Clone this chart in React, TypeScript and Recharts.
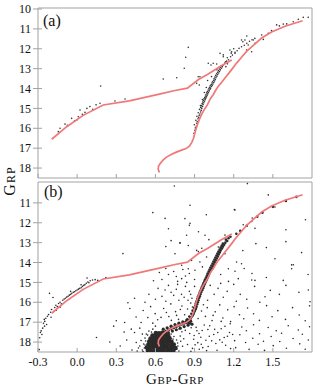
import { ReferenceArea, Scatter, ScatterChart, XAxis, YAxis } from "recharts";

// colour-magnitude diagram, two panels sharing the same isochrone
const FONT = '"Liberation Serif", "Times New Roman", serif';
const FRAME = "#a3a3a3";
const RED = "#f07878";
const INK = "#2a2a2a";

const xTicks = [-0.3, 0.0, 0.3, 0.6, 0.9, 1.2, 1.5];
const yTicksA = [10, 11, 12, 13, 14, 15, 16, 17, 18];
const yTicksB = [11, 12, 13, 14, 15, 16, 17, 18];

// isochrone: main sequence -> giant branch
const isoMain: [number, number][] = [
    [0.630, 18.22], [0.621, 18.05], [0.624, 17.9], [0.638, 17.76], [0.658, 17.6], [0.685, 17.45],
    [0.72, 17.32], [0.76, 17.2], [0.8, 17.1], [0.835, 17.02], [0.86, 16.9], [0.878, 16.72],
    [0.892, 16.5], [0.902, 16.25], [0.913, 16.0], [0.925, 15.75], [0.94, 15.5], [0.958, 15.25],
    [0.98, 15.0], [1.0, 14.8], [1.022, 14.5], [1.044, 14.3], [1.065, 14.05], [1.082, 13.89],
    [1.108, 13.68], [1.133, 13.47], [1.16, 13.25], [1.184, 13.05], [1.222, 12.72], [1.26, 12.43],
    [1.299, 12.13], [1.35, 11.83], [1.414, 11.46], [1.49, 11.16], [1.593, 10.87], [1.728, 10.59]
];
// isochrone: core helium burning branch
const isoLoop: [number, number][] = [
    [-0.195, 16.55], [-0.08, 15.92], [0.046, 15.35], [0.2, 14.83], [0.4, 14.62], [0.63, 14.28],
    [0.75, 14.1], [0.845, 13.98], [0.93, 13.55], [1.005, 13.27], [1.105, 12.85], [1.185, 12.57]
];

// panel (a): member stars
const aGiants: [number, number][] = [
    [0.895, 16.25], [0.902, 16.1], [0.906, 15.98], [0.913, 15.9], [0.898, 15.82], [0.916, 15.75],
    [0.921, 15.66], [0.91, 15.6], [0.926, 15.52], [0.931, 15.45], [0.918, 15.4],
    [0.935, 15.35], [0.941, 15.28], [0.928, 15.22], [0.946, 15.18], [0.951, 15.1], [0.938, 15.05],
    [0.955, 15.0], [0.947, 14.95], [0.961, 14.9], [0.952, 14.86], [0.966, 14.8], [0.958, 14.76],
    [0.971, 14.72], [0.962, 14.68], [0.976, 14.64], [0.967, 14.6], [0.981, 14.56], [0.972, 14.52],
    [0.986, 14.49], [0.978, 14.46], [0.991, 14.42], [0.983, 14.38], [0.996, 14.35], [0.988, 14.3],
    [1.001, 14.27], [0.993, 14.22], [1.006, 14.2], [0.998, 14.15], [1.012, 14.12], [1.004, 14.08],
    [1.018, 14.05], [1.01, 14.0], [1.023, 13.98], [1.015, 13.94], [1.029, 13.9], [1.02, 13.86],
    [1.035, 13.84], [1.027, 13.8], [1.041, 13.77], [1.033, 13.72], [1.047, 13.7], [1.038, 13.66],
    [1.053, 13.62], [1.045, 13.58], [1.059, 13.55], [1.05, 13.5], [1.064, 13.46], [1.056, 13.42],
    [1.071, 13.38], [1.062, 13.34], [1.077, 13.3], [1.069, 13.26], [1.085, 13.22], [1.076, 13.18],
    [1.091, 13.14], [1.083, 13.1], [1.098, 13.06], [1.09, 13.02], [1.106, 12.98], [1.098, 12.94],
    [1.113, 12.9], [1.105, 12.86], [1.121, 12.82], [1.03, 13.4], [1.0, 13.6], [0.99, 13.95],
    [1.07, 13.05], [1.14, 12.9], [1.152, 12.76], [0.975, 14.2], [0.96, 14.55], [0.945, 14.85],
    [1.131, 12.72], [1.146, 12.62], [1.16, 12.55], [1.151, 12.45], [1.176, 12.4], [1.19, 12.32],
    [1.181, 12.22], [1.21, 12.18], [1.226, 12.1], [1.2, 12.0], [1.241, 11.98], [1.26, 11.9],
    [1.281, 11.82], [1.3, 11.72], [1.27, 11.65], [1.321, 11.62], [1.34, 11.55], [1.362, 11.48],
    [1.12, 12.4], [1.043, 12.73], [1.095, 12.23], [1.184, 12.15], [1.26, 11.56], [1.3, 11.36],
    [1.414, 11.31], [1.465, 11.22], [1.337, 12.15], [1.005, 12.73], [0.941, 13.41], [0.916, 13.74],
    [1.529, 10.8], [1.55, 10.85], [1.606, 10.75], [1.58, 10.76], [1.656, 10.64], [1.695, 10.52],
    [1.733, 10.42], [1.771, 10.42], [1.49, 11.09], [1.427, 11.53], [1.363, 11.73], [1.286, 11.56],
    [1.35, 11.56], [1.311, 11.81], [1.299, 12.06]
];
const aBranch: [number, number][] = [
    [0.66, 13.52], [0.763, 13.46], [0.821, 12.98], [0.832, 12.43], [0.852, 11.93], [0.928, 13.41],
    [0.936, 13.82], [1.026, 12.82], [1.069, 12.77], [1.12, 12.31], [1.171, 12.06], [1.21, 12.23],
    [1.138, 12.65], [-0.144, 16.17], [-0.131, 16.0], [-0.093, 15.79], [-0.075, 15.85], [-0.042, 15.5],
    [-0.02, 15.62], [-0.003, 15.58], [0.009, 15.42], [0.022, 15.08], [0.04, 15.3], [0.06, 15.2],
    [0.075, 15.0], [0.098, 14.91], [0.12, 15.05], [0.145, 14.82], [0.175, 14.74], [0.18, 13.87],
    [0.29, 14.63], [0.367, 14.53]
];

// panel (b): all stars in the field
const bHB: [number, number][] = [
    [-0.29, 18.38], [-0.287, 17.78], [-0.282, 17.52], [-0.276, 17.44], [-0.27, 17.62], [-0.264, 17.3],
    [-0.258, 17.06], [-0.252, 16.86], [-0.248, 16.96], [-0.24, 16.8], [-0.234, 17.12], [-0.228, 16.7],
    [-0.219, 16.62], [-0.212, 15.55], [-0.203, 16.5], [-0.196, 16.36], [-0.185, 15.76], [-0.18, 16.46],
    [-0.172, 16.26], [-0.163, 16.15], [-0.152, 16.22], [-0.142, 16.06], [-0.131, 16.0], [-0.121, 16.08],
    [-0.11, 15.9], [-0.1, 15.84], [-0.09, 15.8], [-0.08, 15.74], [-0.07, 15.7], [-0.06, 15.64],
    [-0.05, 15.6], [-0.041, 15.55], [-0.03, 15.5], [-0.02, 15.47], [-0.01, 15.42], [0.0, 15.38],
    [0.01, 15.34], [0.02, 15.3], [0.031, 15.27], [0.04, 15.2], [0.051, 15.15], [0.06, 15.11],
    [0.07, 15.04], [0.082, 14.98], [0.09, 15.02], [0.1, 14.92], [0.118, 14.88], [0.138, 14.86],
    [0.158, 14.9], [0.22, 14.76], [0.076, 14.78], [-0.16, 16.4], [-0.13, 16.25], [-0.05, 15.45],
    [0.03, 15.12], [-0.2, 16.75], [-0.25, 17.2], [0.148, 17.77]
];
const bField: [number, number][] = [
    [0.745, 10.15], [1.305, 10.03], [1.465, 10.6], [0.865, 11.12], [1.205, 11.34], [0.826, 11.79],
    [0.86, 12.13], [1.516, 11.21], [1.342, 11.76], [1.273, 12.1], [0.58, 11.49], [1.21, 11.36],
    [0.674, 11.78], [0.865, 12.03], [1.338, 11.94], [1.363, 12.28], [1.133, 12.62], [0.99, 11.6],
    [1.75, 11.85], [1.6, 12.35], [0.7, 12.3], [0.93, 12.45],
    [0.839, 12.63], [0.788, 13.0], [0.852, 13.14], [0.916, 13.39], [0.955, 13.28], [0.98, 12.63],
    [1.01, 12.85], [1.082, 13.22], [1.133, 13.56], [1.222, 13.97], [1.26, 14.06], [1.516, 13.81],
    [1.657, 14.11], [0.75, 13.56], [0.877, 13.89], [0.941, 13.97], [0.992, 13.72], [0.929, 13.45],
    [0.789, 13.03], [0.68, 13.2], [0.72, 12.9], [1.45, 13.25], [1.72, 13.5], [1.6, 12.95],
    [1.37, 13.05], [0.351, 13.55], [1.27, 13.4],
    [0.801, 14.14], [0.852, 14.31], [0.903, 14.39], [0.96, 14.22], [1.159, 14.31], [1.21, 14.44],
    [1.235, 14.81], [1.363, 14.9], [1.58, 14.9], [0.801, 14.81], [0.83, 14.68], [0.77, 14.95],
    [1.644, 14.31], [0.7, 14.6], [0.65, 14.85], [0.585, 14.92], [0.74, 14.45], [1.1, 14.6],
    [1.34, 14.55], [1.45, 14.75], [1.28, 14.3], [1.77, 14.6], [0.68, 14.3], [0.9, 14.85],
    [1.16, 14.95], [1.644, 14.12], [0.76, 14.7], [0.86, 14.55], [0.63, 14.5], [0.81, 14.35],
    [0.674, 15.38], [0.65, 15.7], [0.6, 15.85], [0.72, 15.5], [0.76, 15.35], [0.8, 15.6],
    [0.83, 15.2], [0.86, 15.45], [0.88, 15.8], [0.78, 15.9], [0.7, 15.15], [0.62, 15.3],
    [0.55, 15.6], [0.52, 16.0], [0.44, 15.8], [0.389, 16.02], [1.0, 15.9], [1.05, 15.6],
    [1.08, 15.3], [1.12, 15.75], [1.15, 15.45], [1.2, 15.1], [1.25, 15.6], [1.3, 15.85],
    [1.338, 14.88], [1.36, 15.2], [1.44, 15.72], [1.48, 15.4], [1.55, 15.6], [1.6, 15.15],
    [1.7, 15.5], [1.772, 15.38], [1.785, 15.97], [1.22, 15.95], [1.4, 16.0], [1.02, 15.15],
    [0.9, 15.2], [0.84, 15.0], [0.82, 15.75], [0.74, 15.65], [0.87, 15.6], [0.68, 15.95],
    [0.77, 15.1], [0.85, 15.9], [1.1, 15.05],
    [0.3, 16.93], [0.364, 17.02], [0.49, 17.02], [0.542, 16.77], [0.506, 16.41], [0.563, 16.22],
    [0.598, 16.57], [0.617, 16.88], [0.663, 16.31], [0.703, 16.72], [0.718, 16.08], [0.754, 16.47],
    [0.777, 16.86], [0.803, 16.19], [0.824, 16.63], [0.846, 16.34], [0.871, 16.04], [0.983, 16.71],
    [0.997, 16.27], [1.034, 16.92], [1.058, 16.48], [1.093, 16.13], [1.117, 16.79], [1.154, 16.38],
    [1.176, 16.97], [1.203, 16.22], [1.244, 16.63], [1.277, 16.83], [1.306, 16.29], [1.352, 16.58],
    [1.397, 16.91], [1.452, 16.17], [1.494, 16.73], [1.538, 16.42], [1.597, 16.86], [1.651, 16.27],
    [1.702, 16.64], [1.748, 16.93], [1.781, 16.18], [0.927, 16.82], [0.953, 16.44], [1.104, 16.96],
    [0.404, 16.31], [0.452, 16.74], [0.762, 16.66], [0.833, 16.97], [0.684, 16.51], [0.791, 16.36],
    [0.968, 16.12], [1.042, 16.66], [0.643, 16.76], [0.722, 16.91], [0.884, 16.24],
    [0.415, 17.35], [0.44, 17.52], [0.453, 18.02], [0.555, 17.86], [0.47, 18.3], [0.5, 17.6],
    [0.38, 17.9], [0.33, 18.2], [0.42, 18.4], [0.52, 18.15], [0.803, 17.48], [0.817, 17.83],
    [0.846, 18.12], [0.874, 17.28], [0.897, 17.67], [0.925, 18.03], [0.936, 18.36], [0.958, 17.42],
    [0.987, 17.91], [1.004, 18.22], [1.016, 17.18], [1.047, 17.62], [1.063, 18.07], [1.072, 18.41],
    [1.104, 17.33], [1.127, 17.77], [1.138, 18.16], [1.168, 17.52], [1.173, 17.08], [1.207, 17.93],
    [1.215, 18.28], [1.247, 17.63], [1.262, 17.24], [1.291, 18.02], [1.297, 17.43], [1.318, 18.37],
    [1.346, 17.81], [1.352, 17.13], [1.387, 18.11], [1.398, 17.58], [1.428, 17.96], [1.436, 18.42],
    [1.464, 17.27], [1.487, 17.72], [1.503, 18.18], [1.526, 17.43], [1.553, 17.97], [1.567, 17.56],
    [1.604, 18.31], [1.618, 17.18], [1.655, 17.82], [1.695, 17.39], [1.706, 18.09], [1.726, 17.61],
    [1.748, 18.36], [1.772, 17.9], [1.781, 17.23], [0.863, 17.57], [0.912, 17.26], [0.974, 17.14],
    [1.013, 17.71], [0.884, 18.32], [0.838, 17.06], [0.951, 18.11], [1.054, 17.36], [1.112, 18.01],
    [0.808, 18.21], [0.829, 17.41], [0.893, 17.86], [0.934, 17.57], [0.992, 18.43], [1.031, 17.94],
    [1.078, 17.52], [1.133, 17.21], [1.176, 18.33], [1.192, 17.62], [0.794, 17.96], [0.781, 17.34],
    [0.904, 18.14], [0.948, 17.76], [1.002, 17.37], [0.872, 18.46], [0.918, 17.43], [0.963, 18.28],
    [1.093, 17.89], [1.152, 17.71], [0.36, 17.5], [0.28, 17.2], [0.25, 18.0], [0.6, 17.2],
    [0.58, 17.05], [0.48, 17.3]
];
const bRGB: [number, number][] = [
    [0.83, 17.0], [0.85, 16.95], [0.86, 16.9], [0.845, 16.85], [0.87, 16.82], [0.875, 16.75],
    [0.86, 16.72], [0.885, 16.68], [0.89, 16.6], [0.875, 16.58], [0.895, 16.52], [0.9, 16.45],
    [0.885, 16.42], [0.905, 16.38], [0.91, 16.32], [0.895, 16.28], [0.915, 16.22], [0.905, 16.16],
    [0.92, 16.1], [0.91, 16.05], [0.925, 16.0], [0.915, 15.95], [0.93, 15.9], [0.92, 15.84],
    [0.935, 15.78], [0.925, 15.74], [0.94, 15.7], [0.932, 15.64], [0.945, 15.6], [0.937, 15.55],
    [0.95, 15.5], [0.943, 15.45], [0.958, 15.4], [0.95, 15.35], [0.965, 15.3], [0.955, 15.25],
    [0.97, 15.2], [0.962, 15.15], [0.977, 15.1], [0.968, 15.05], [0.983, 15.0], [0.975, 14.95],
    [0.99, 14.9], [0.98, 14.85], [0.997, 14.8], [0.988, 14.75], [1.004, 14.7], [0.995, 14.65],
    [1.01, 14.6], [1.0, 14.55], [1.017, 14.5], [1.008, 14.45], [1.024, 14.4], [1.015, 14.35],
    [1.032, 14.3], [1.022, 14.25], [1.04, 14.2], [1.03, 14.15], [1.047, 14.1], [1.038, 14.05],
    [1.055, 14.0], [1.045, 13.95], [1.062, 13.9], [1.053, 13.85], [1.07, 13.8], [1.06, 13.75],
    [1.078, 13.7], [1.068, 13.65], [1.085, 13.6], [1.075, 13.55], [1.093, 13.5], [1.083, 13.45],
    [1.1, 13.4], [1.092, 13.35], [1.11, 13.3], [1.1, 13.25], [1.118, 13.2], [1.108, 13.15],
    [1.127, 13.1], [1.117, 13.05], [1.136, 13.0], [1.15, 12.92], [1.14, 12.85], [1.16, 12.78],
    [1.175, 12.7], [1.22, 12.55], [1.25, 12.4], [1.3, 12.15], [1.38, 11.7], [1.42, 11.5],
    [1.5, 11.2], [1.6, 10.9], [1.68, 10.7]
];
const bSubgiant: [number, number][] = [
    [0.64, 17.6], [0.66, 17.5], [0.68, 17.45], [0.7, 17.4], [0.72, 17.32], [0.74, 17.28],
    [0.76, 17.22], [0.78, 17.15], [0.8, 17.1], [0.82, 17.05], [0.84, 17.0], [0.65, 17.75],
    [0.67, 17.65], [0.7, 17.55], [0.73, 17.45], [0.76, 17.38], [0.79, 17.3], [0.82, 17.22],
    [0.85, 17.15], [0.86, 17.05], [0.66, 17.35], [0.69, 17.28], [0.72, 17.2], [0.75, 17.12],
    [0.78, 17.05], [0.81, 16.98], [0.84, 16.9], [0.87, 16.95], [0.88, 17.1]
];
// densest part of the main sequence, drawn with bigger dots
const bCore: [number, number][] = [
    [0.542, 18.42], [0.566, 18.44], [0.592, 18.41], [0.614, 18.43], [0.641, 18.42], [0.664, 18.44],
    [0.691, 18.41], [0.716, 18.43], [0.738, 18.42], [0.533, 18.27], [0.558, 18.29], [0.586, 18.26],
    [0.611, 18.28], [0.634, 18.27], [0.661, 18.29], [0.684, 18.26], [0.711, 18.28], [0.733, 18.27],
    [0.754, 18.3], [0.546, 18.12], [0.571, 18.14], [0.596, 18.11], [0.62, 18.13], [0.646, 18.12],
    [0.669, 18.14], [0.694, 18.11], [0.721, 18.13], [0.741, 18.12], [0.552, 17.97], [0.576, 17.99],
    [0.601, 17.96], [0.626, 17.98], [0.651, 17.97], [0.674, 17.99], [0.701, 17.96], [0.724, 17.98],
    [0.562, 17.82], [0.586, 17.84], [0.611, 17.81], [0.636, 17.83], [0.659, 17.82], [0.686, 17.84],
    [0.709, 17.81], [0.577, 17.67], [0.601, 17.69], [0.626, 17.66], [0.651, 17.68], [0.674, 17.67],
    [0.699, 17.69], [0.603, 17.54], [0.627, 17.56], [0.652, 17.53], [0.676, 17.55]
];
const bCoreEdge: [number, number][] = [
    [0.5, 18.4], [0.51, 18.1], [0.52, 17.8], [0.53, 17.6], [0.49, 17.92], [0.762, 17.9],
    [0.772, 18.2], [0.78, 18.45], [0.55, 17.45], [0.58, 17.35], [0.72, 17.6], [0.742, 17.72],
    [0.79, 17.7], [0.48, 18.2], [0.46, 18.45], [0.515, 18.3], [0.525, 17.95], [0.77, 18.05],
    [0.765, 18.35], [0.735, 17.85], [0.57, 17.5], [0.54, 17.65], [0.505, 18.48]
];

const toPts = (arr: [number, number][]) => arr.map(([c, m]) => ({ c, m }));

const dot = (r: number, fill = INK) => (p: any) => <circle cx={p.cx} cy={p.cy} r={r} fill={fill} />;
const noDot = () => <g />;

function LeftTick(props: any) {
    const { x, y, payload } = props;
    return (
        <g>
            <line x1={x - 5} x2={x + 4} y1={y} y2={y} stroke={FRAME} />
            <text x={x - 7} y={y} dy="0.35em" textAnchor="end" fontSize={12} fontFamily={FONT} fill="#111">
                {payload.value}
            </text>
        </g>
    );
}

function BottomTick(props: any) {
    const { x, y, payload, showLabel } = props;
    return (
        <g>
            <line x1={x} x2={x} y1={y} y2={y - 4} stroke={FRAME} />
            {showLabel && (
                <text x={x} y={y + 14} textAnchor="middle" fontSize={12} fontFamily={FONT} fill="#111">
                    {Number(payload.value).toFixed(1)}
                </text>
            )}
        </g>
    );
}

function axes(yTicks: number[], showLabel: boolean, xHeight: number) {
    return [
        <XAxis
            key="x"
            type="number"
            dataKey="c"
            domain={[-0.3, 1.8]}
            ticks={xTicks}
            allowDataOverflow
            height={xHeight}
            axisLine={false}
            tickLine={false}
            tickSize={0}
            tickMargin={0}
            interval={0}
            tick={(p: any) => <BottomTick {...p} showLabel={showLabel} />}
        />,
        <YAxis
            key="y"
            type="number"
            dataKey="m"
            domain={[9.95, 18.5]}
            reversed
            ticks={yTicks}
            allowDataOverflow
            width={38}
            axisLine={false}
            tickLine={false}
            tickSize={0}
            tickMargin={0}
            interval={0}
            tick={(p: any) => <LeftTick {...p} />}
        />,
        <ReferenceArea
            key="frame"
            x1={-0.3}
            x2={1.8}
            y1={9.95}
            y2={18.5}
            fill="none"
            stroke={FRAME}
            ifOverflow="visible"
        />
    ];
}

export default function App() {
    return (
        <div style={{ position: "absolute", left: 0, top: 0, width: 315, height: 391, background: "#fff" }}>
            <div style={{ position: "absolute", left: 0, top: 0 }}>
                <ScatterChart width={315} height={180} margin={{ top: 8, right: 3, bottom: 0, left: 0 }}>
                    {axes(yTicksA, false, 2)}
                    <Scatter data={toPts(aGiants)} shape={dot(0.8, "#333")} isAnimationActive={false} />
                    <Scatter data={toPts(aBranch)} shape={dot(0.8, "#333")} isAnimationActive={false} />
                    <Scatter data={toPts(isoMain)} shape={noDot} line={{ stroke: RED, strokeWidth: 1.7 }} isAnimationActive={false} />
                    <Scatter data={toPts(isoLoop)} shape={noDot} line={{ stroke: RED, strokeWidth: 1.7 }} isAnimationActive={false} />
                </ScatterChart>
            </div>
            <div style={{ position: "absolute", left: 0, top: 180 }}>
                <ScatterChart width={315} height={211} margin={{ top: 2, right: 3, bottom: 9, left: 0 }}>
                    {axes(yTicksB, true, 30)}
                    <Scatter data={toPts(bField)} shape={dot(0.8)} isAnimationActive={false} />
                    <Scatter data={toPts(bHB)} shape={dot(0.8)} isAnimationActive={false} />
                    <Scatter data={toPts(bRGB)} shape={dot(1.3)} isAnimationActive={false} />
                    <Scatter data={toPts(bSubgiant)} shape={dot(1.6)} isAnimationActive={false} />
                    <Scatter data={toPts(bCoreEdge)} shape={dot(0.8)} isAnimationActive={false} />
                    <Scatter data={toPts(bCore)} shape={dot(2.2)} isAnimationActive={false} />
                    <Scatter data={toPts(isoMain)} shape={noDot} line={{ stroke: RED, strokeWidth: 1.7 }} isAnimationActive={false} />
                    <Scatter data={toPts(isoLoop)} shape={noDot} line={{ stroke: RED, strokeWidth: 1.7 }} isAnimationActive={false} />
                </ScatterChart>
            </div>
            <svg width={315} height={391} style={{ position: "absolute", left: 0, top: 0, pointerEvents: "none" }}>
                <g fontFamily={FONT} fill="#111">
                    <text x={43} y={26} fontSize={16}>(a)</text>
                    <text x={44} y={197} fontSize={16}>(b)</text>
                    <text transform="translate(15,181) rotate(-90)" textAnchor="middle" letterSpacing={1}>
                        <tspan fontSize={16}>G</tspan>
                        <tspan fontSize={12}>RP</tspan>
                    </text>
                    <text x={175} y={384} textAnchor="middle" letterSpacing={0.6}>
                        <tspan fontSize={15}>G</tspan>
                        <tspan fontSize={11}>BP</tspan>
                        <tspan fontSize={15}>-</tspan>
                        <tspan fontSize={15}>G</tspan>
                        <tspan fontSize={11}>RP</tspan>
                    </text>
                </g>
            </svg>
        </div>
    );
}
